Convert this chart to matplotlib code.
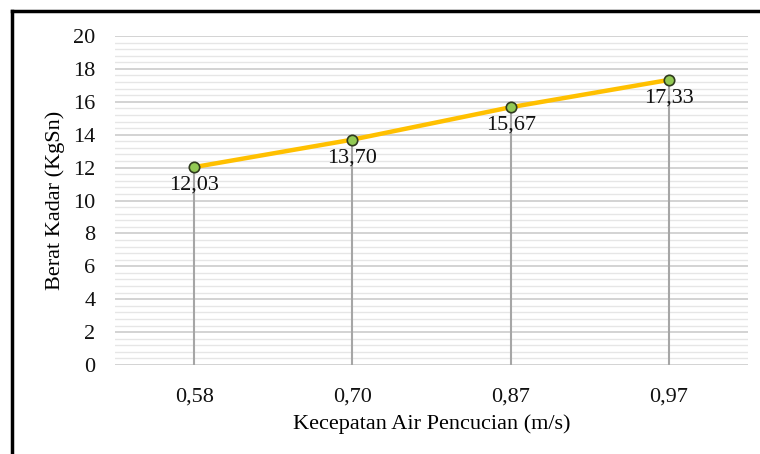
import matplotlib.pyplot as plt
from matplotlib.lines import Line2D
from matplotlib.ticker import MultipleLocator

# data
kecepatan = ['0,58', '0,70', '0,87', '0,97']
berat = [12.03, 13.70, 15.67, 17.33]
label_txt = ['12,03', '13,70', '15,67', '17,33']

plt.rcParams['font.family'] = ['Liberation Serif', 'DejaVu Serif']

fig = plt.figure(figsize=(7.6, 4.54), dpi=100)
ax = fig.add_axes([115/760, 1 - 365/454, (748-115)/760, (365-36)/454])

x = range(len(berat))

# drop lines
for i, v in zip(x, berat):
    ax.plot([i, i], [0, v], color='#a6a6a6', lw=1.5, zorder=2)

ax.plot(x, berat, color='#FFC000', lw=3.2, zorder=3, solid_capstyle='round')
ax.plot(x, berat, 'o', ms=7.5, mfc='#92C954', mec='#2f3a1e', mew=1.2, zorder=4)

for i, v, t in zip(x, berat, label_txt):
    ax.annotate(t, (i, v), xytext=(0, -18), textcoords='offset pixels',
                ha='center', va='center', fontsize=16, color='#111111', zorder=5)

ax.set_xlim(-0.5, 3.5)
ax.set_ylim(0, 20)
ax.set_xticks(list(x))
ax.set_xticklabels(kecepatan)
ax.yaxis.set_major_locator(MultipleLocator(2))
ax.yaxis.set_minor_locator(MultipleLocator(0.4))
ax.grid(which='major', axis='y', color='#d0d0d0', lw=1.3, zorder=0)
ax.grid(which='minor', axis='y', color='#e6e6e6', lw=1.0, zorder=0)
ax.set_axisbelow(True)
ax.tick_params(which='both', length=0, labelsize=16, colors='#111111')
ax.tick_params(axis='y', pad=14)
ax.tick_params(axis='x', pad=16)
for s in ax.spines.values():
    s.set_visible(False)

ax.set_xlabel('Kecepatan Air Pencucian (m/s)', fontsize=16, labelpad=6)
ax.set_ylabel('Berat Kadar (KgSn)', fontsize=16, labelpad=6)

# frame at top and left
fig.add_artist(Line2D([12/760, 1], [1 - 11/454, 1 - 11/454], color='black', lw=2.5))
fig.add_artist(Line2D([12/760, 12/760], [0, 1 - 11/454], color='black', lw=2.5))

fig.savefig('out.png', dpi=100)
